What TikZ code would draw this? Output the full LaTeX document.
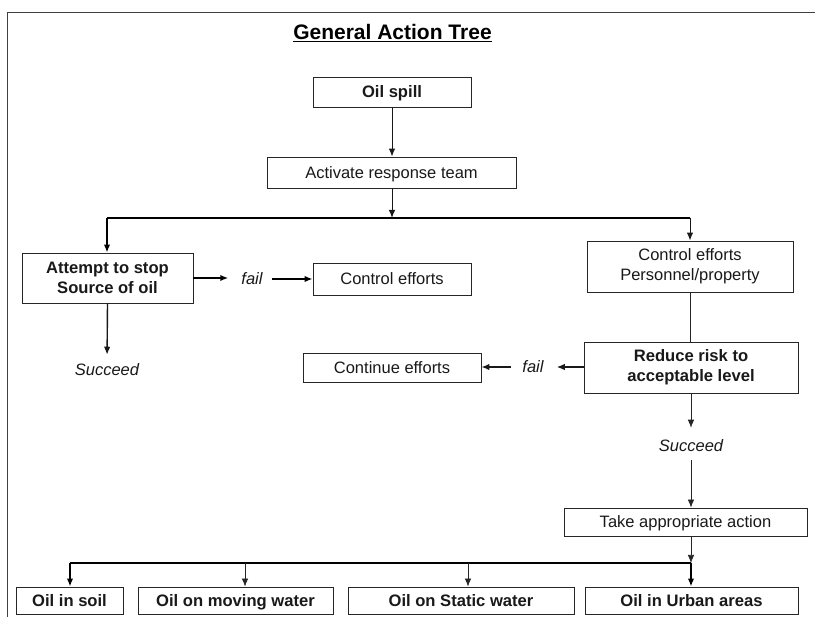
\documentclass[tikz,border=0pt]{standalone}
\usepackage{fontspec}
\setmainfont{Liberation Sans}
\usetikzlibrary{arrows.meta,calc}
\begin{document}
\begin{tikzpicture}[x=1pt,y=-1pt,
  box/.style={draw=black!85, line width=0.9pt, inner sep=0pt, align=center, text=black!90, font=\fontsize{16.5}{20}\selectfont},
  bbox/.style={box, font=\bfseries\fontsize{16.6}{20}\selectfont},
  oneline/.style={text height=12pt, text depth=0pt},
  lbl/.style={inner sep=0pt, text=black!90, font=\itshape\fontsize{16.5}{20}\selectfont},
  arr/.style={-{Latex[length=8pt,width=6.5pt]}},
  thinline/.style={line width=0.7pt, draw=black!85},
  midline/.style={line width=1pt, draw=black!90},
  heavy/.style={line width=2pt, draw=black}
]
\useasboundingbox (0,0) rectangle (815,617);
\fill[white] (0,0) rectangle (815,617);
% frame
\draw[line width=0.9pt, black!75] (7,617) -- (7,12) -- (815,12);
% title
\node[inner sep=0pt, anchor=base, font=\bfseries\fontsize{21}{24}\selectfont] (title) at (392.5,40) {\underline{General Action Tree}};
% boxes
\node[bbox, oneline, minimum width=158pt, minimum height=30pt] (oil) at (392,92) {Oil spill};
\node[box, oneline, minimum width=249pt, minimum height=31pt] (act) at (391.5,172.5) {Activate response team};
\node[bbox, minimum width=171pt, minimum height=50pt] (att) at (107.5,278) {Attempt to stop\\Source of oil};
\node[box, oneline, minimum width=158pt, minimum height=32pt] (ce1) at (392,279) {Control efforts};
\node[box, minimum width=206pt, minimum height=51pt] (cep) at (690,266.5) {Control efforts\\Personnel/property};
\node[bbox, minimum width=214pt, minimum height=51pt] (red) at (691,367.5) {Reduce risk to\\acceptable level};
\node[box, oneline, minimum width=178pt, minimum height=29pt] (cont) at (392,367.5) {Continue efforts};
\node[box, oneline, minimum width=243pt, minimum height=28pt] (take) at (685.5,522) {Take appropriate action};
\node[bbox, oneline, minimum width=107pt, minimum height=27pt] (soil) at (69.5,600.5) {Oil in soil};
\node[bbox, oneline, minimum width=195pt, minimum height=27pt] (mov) at (235.5,600.5) {Oil on moving water};
\node[bbox, oneline, minimum width=226pt, minimum height=27pt] (stat) at (461,600.5) {Oil on Static water};
\node[bbox, oneline, minimum width=213pt, minimum height=27pt] (urb) at (691.5,600.5) {Oil in Urban areas};
% labels
\node[lbl] (fail1) at (252,279) {fail};
\node[lbl] (fail2) at (533,367) {fail};
\node[lbl] (succ1) at (107,370) {Succeed};
\node[lbl] (succ2) at (691,446) {Succeed};
% bus coordinates
\coordinate (b1l) at (107,218);
\coordinate (b1r) at (690,218);
\coordinate (b1m) at (392,218);
\coordinate (b2l) at (70,563);
\coordinate (b2r) at (691,563);
\coordinate (d2) at (245,563);
\coordinate (d3) at (468,563);
% connectors
\draw[midline, arr] (oil.south) -- (oil.south |- act.north);
\draw[midline, arr] (act.south -| b1m) -- (b1m);
\draw[heavy] (b1l) -- (b1r);
\draw[heavy, arr] (b1l) -- (b1l |- att.north);
\draw[midline, arr] (b1r) -- (b1r |- cep.north);
\draw[heavy, arr, shorten >=13pt] (att.east) -- (att.east -| fail1.west);
\draw[heavy, arr, shorten <=9pt] (fail1.east) -- (fail1.east -| ce1.west);
\draw[midline, line width=1.4pt, arr, shorten >=9pt] (att.south) -- (succ1.north);
\draw[thinline] (cep.south) -- (cep.south |- red.north);
\draw[midline, line width=1.4pt, arr, shorten >=13pt] (red.west |- fail2) -- (fail2.east);
\draw[midline, line width=1.4pt, arr, shorten <=11pt] (fail2.west) -- (fail2.west -| cont.east);
\draw[thinline, arr, shorten >=12pt] (red.south) -- (succ2.north);
\draw[thinline, arr, shorten <=8pt] (succ2.south) -- (succ2.south |- take.north);
\draw[thinline, arr] (take.south -| b2r) -- (b2r);
\draw[heavy] (b2l) -- (b2r);
\draw[heavy, arr] (b2l) -- (b2l |- soil.north);
\draw[heavy, arr] (b2r) -- (b2r |- urb.north);
\draw[thinline, arr] (d2) -- (d2 |- mov.north);
\draw[thinline, arr] (d3) -- (d3 |- stat.north);
\end{tikzpicture}
\end{document}
